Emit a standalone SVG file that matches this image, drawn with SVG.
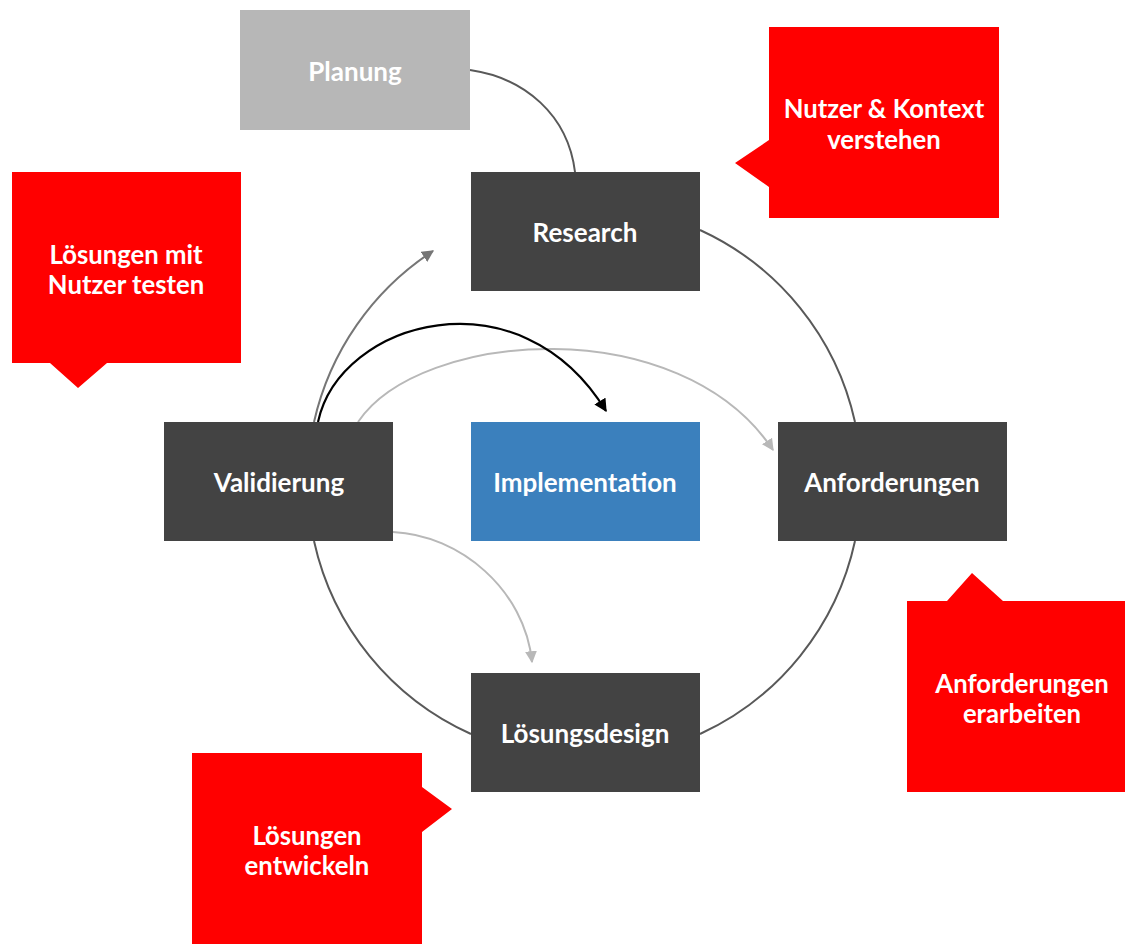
<svg xmlns="http://www.w3.org/2000/svg" width="1125" height="944" viewBox="0 0 1125 944">
  <style>
    .node { fill: #434343; }
    .label { font-family: Lato, "Liberation Sans", sans-serif; font-weight: 700; font-size: 26px; fill: #ffffff; text-anchor: middle; dominant-baseline: central; }
    .note { fill: #ff0000; }
    .note-text { font-family: Lato, "Liberation Sans", sans-serif; font-weight: 700; font-size: 25.7px; fill: #ffffff; text-anchor: middle; dominant-baseline: central; }
    .ring { fill: none; stroke: #595959; stroke-width: 2; }
  </style>
  <defs>
    <marker id="head-gray" viewBox="0 0 10 10" refX="9" refY="5" markerWidth="12" markerHeight="12" markerUnits="userSpaceOnUse" orient="auto">
      <path d="M0,0 L10,5 L0,10 z" fill="#767676"/>
    </marker>
    <marker id="head-black" viewBox="0 0 10 10" refX="9" refY="5" markerWidth="13" markerHeight="13" markerUnits="userSpaceOnUse" orient="auto">
      <path d="M0,0 L10,5 L0,10 z" fill="#000000"/>
    </marker>
    <marker id="head-light" viewBox="0 0 10 10" refX="9" refY="5" markerWidth="12" markerHeight="12" markerUnits="userSpaceOnUse" orient="auto">
      <path d="M0,0 L10,5 L0,10 z" fill="#b8b8b8"/>
    </marker>
  </defs>

  <!-- connectors -->
  <g id="connectors">
    <path class="ring" d="M470,70 C525,78 568,115 575,172"/>
    <path class="ring" d="M700,230 A277,277 0 0 1 855,422"/>
    <path class="ring" d="M855,541 A277,277 0 0 1 700,734"/>
    <path class="ring" d="M471,734 A277,277 0 0 1 314,541"/>
    <path d="M314,422 A277,277 0 0 1 433,251" fill="none" stroke="#767676" stroke-width="2" marker-end="url(#head-gray)"/>
    <path d="M358,422 C420,330 680,310 773,450" fill="none" stroke="#b8b8b8" stroke-width="2" marker-end="url(#head-light)"/>
    <path d="M318,422 C340,320 520,270 606,411" fill="none" stroke="#000000" stroke-width="2.2" marker-end="url(#head-black)"/>
    <path d="M393,532 C460,535 525,590 532,662" fill="none" stroke="#b8b8b8" stroke-width="2" marker-end="url(#head-light)"/>
  </g>

  <!-- process steps -->
  <g id="planung">
    <rect x="240" y="10" width="230" height="120" fill="#b7b7b7"/>
    <text class="label" x="355" y="71">Planung</text>
  </g>
  <g id="research">
    <rect class="node" x="471" y="172" width="229" height="119"/>
    <text class="label" x="585" y="232">Research</text>
  </g>
  <g id="validierung">
    <rect class="node" x="164" y="422" width="229" height="119"/>
    <text class="label" x="279" y="482">Validierung</text>
  </g>
  <g id="implementation">
    <rect x="471" y="422" width="229" height="119" fill="#3b80bd"/>
    <text class="label" x="585" y="482">Implementation</text>
  </g>
  <g id="anforderungen">
    <rect class="node" x="778" y="422" width="229" height="119"/>
    <text class="label" x="892" y="482">Anforderungen</text>
  </g>
  <g id="loesungsdesign">
    <rect class="node" x="471" y="673" width="229" height="119"/>
    <text class="label" x="585" y="733">Lösungsdesign</text>
  </g>

  <!-- callouts -->
  <g id="callout-research">
    <path class="note" d="M769,27 L999,27 L999,218 L769,218 L769,187 L735,163 L769,140 Z"/>
    <text class="note-text" x="884" y="108">Nutzer &amp; Kontext</text>
    <text class="note-text" x="884" y="139">verstehen</text>
  </g>
  <g id="callout-validierung">
    <path class="note" d="M12,172 L241,172 L241,363 L107,363 L78,388 L50,363 L12,363 Z"/>
    <text class="note-text" x="126" y="254">Lösungen mit</text>
    <text class="note-text" x="126" y="284">Nutzer testen</text>
  </g>
  <g id="callout-anforderungen">
    <path class="note" d="M907,601 L947,601 L972,573 L1003,601 L1125,601 L1125,792 L907,792 Z"/>
    <text class="note-text" x="1022" y="683">Anforderungen</text>
    <text class="note-text" x="1022" y="713">erarbeiten</text>
  </g>
  <g id="callout-loesungsdesign">
    <path class="note" d="M192,753 L422,753 L422,787 L452,809 L422,832 L422,944 L192,944 Z"/>
    <text class="note-text" x="307" y="835">Lösungen</text>
    <text class="note-text" x="307" y="865">entwickeln</text>
  </g>
</svg>
